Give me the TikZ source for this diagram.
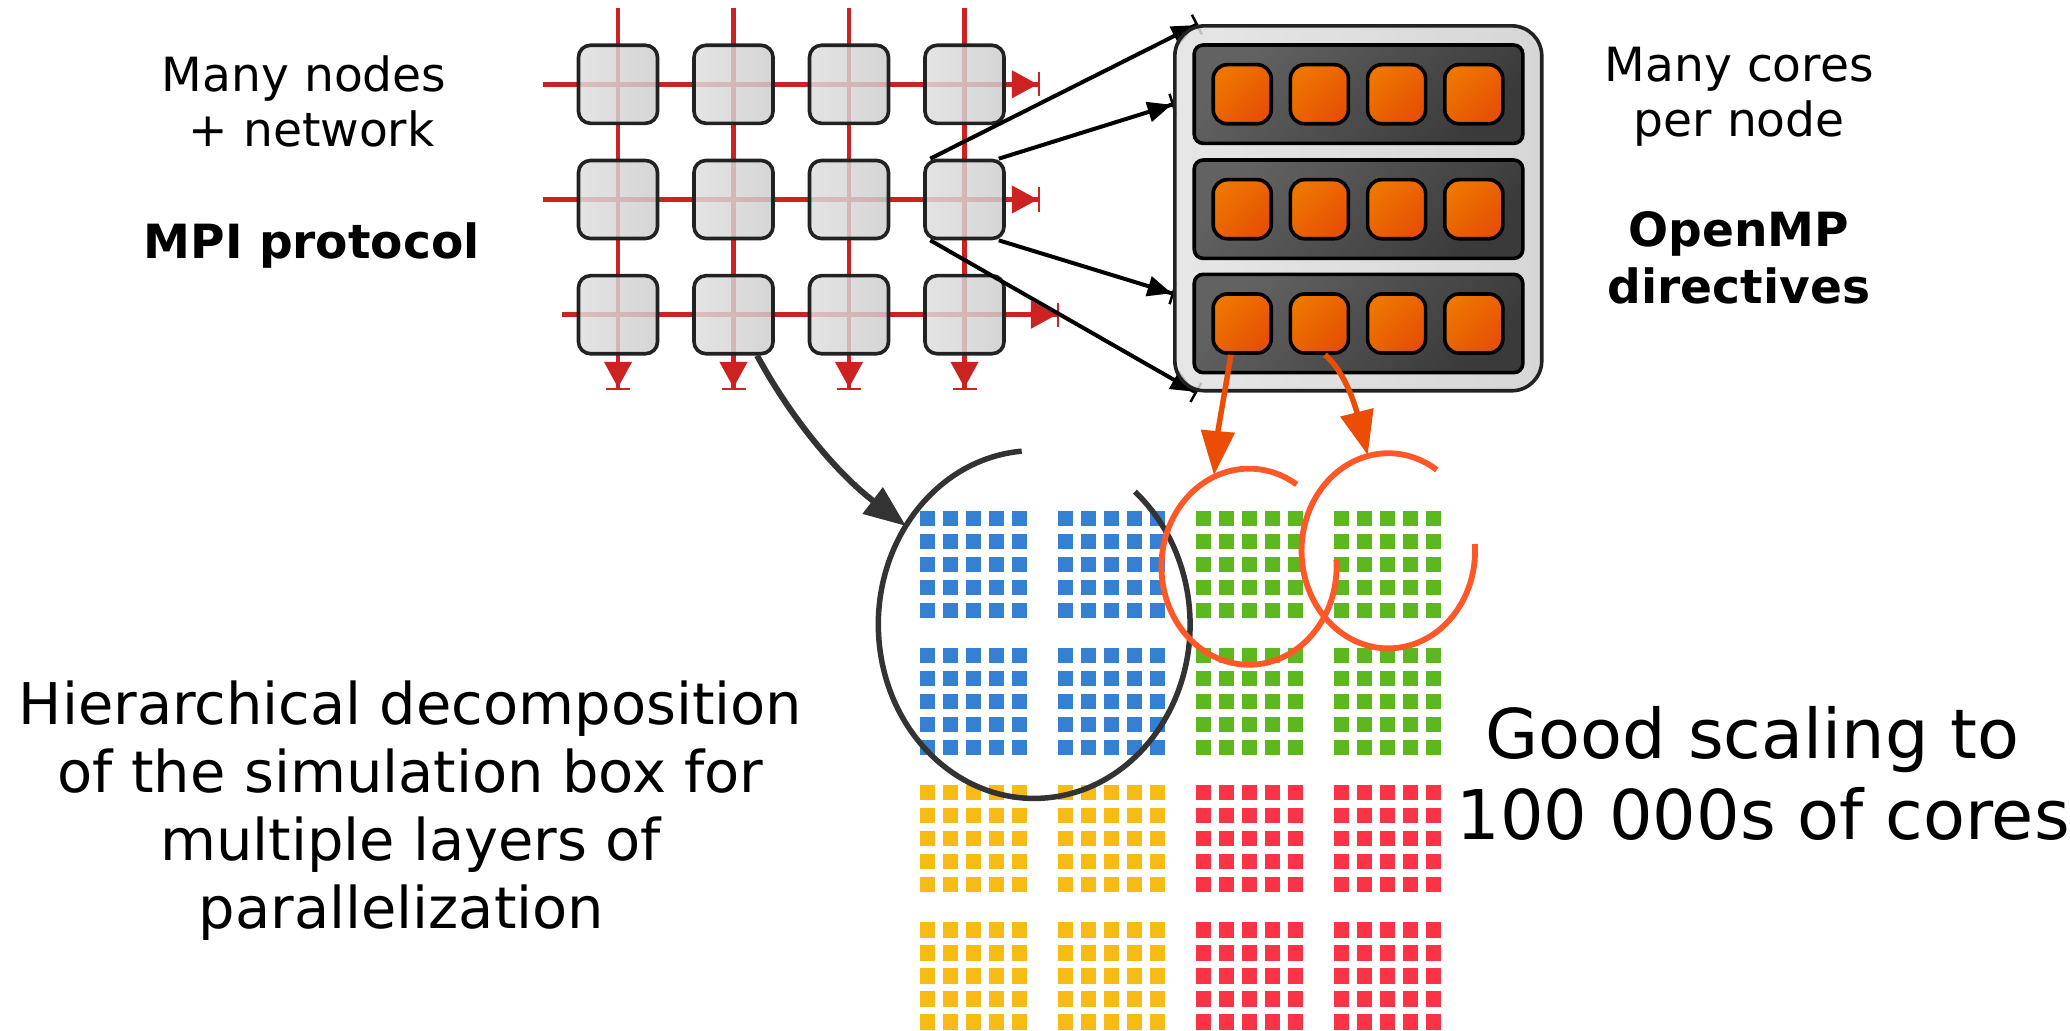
\documentclass[tikz,border=0pt]{standalone}
\usepackage{fontspec}
\setmainfont{DejaVu Sans}
\usetikzlibrary{arrows.meta}
\definecolor{netred}{RGB}{204,34,34}
\definecolor{frame}{RGB}{34,34,34}
\definecolor{arcgray}{RGB}{51,51,51}
\definecolor{cpuA}{RGB}{222,222,222}
\definecolor{cpuB}{RGB}{205,205,205}
\definecolor{rackA}{RGB}{226,226,226}
\definecolor{rackB}{RGB}{207,207,207}
\definecolor{boardA}{RGB}{98,98,98}
\definecolor{boardB}{RGB}{58,58,58}
\definecolor{coreA}{RGB}{238,118,0}
\definecolor{coreB}{RGB}{230,80,5}
\definecolor{spawn}{RGB}{235,77,5}
\definecolor{ringor}{RGB}{255,88,40}
\definecolor{cblue}{RGB}{53,128,210}
\definecolor{cgreen}{RGB}{93,184,31}
\definecolor{cyellow}{RGB}{246,188,21}
\definecolor{cred}{RGB}{250,52,70}
\tikzstyle{cpu}=[rectangle, rounded corners=0.12cm, draw=frame, line width=0.036cm,
  minimum width=0.79cm, minimum height=0.78cm, inner sep=0pt,
  left color=cpuA, right color=cpuB, fill opacity=0.83]
\tikzstyle{rack}=[rectangle, rounded corners=0.3cm, draw=frame, line width=0.036cm,
  minimum width=3.667cm, minimum height=3.647cm, inner sep=0pt,
  left color=rackA, right color=rackB, fill opacity=0.85]
\tikzstyle{board}=[rectangle, rounded corners=0.09cm, draw=black, line width=0.036cm,
  minimum width=3.284cm, minimum height=0.983cm, inner sep=0pt,
  top color=boardA, bottom color=boardB, shading angle=45]
\tikzstyle{core}=[rectangle, rounded corners=0.14cm, draw=black, line width=0.036cm,
  minimum width=0.58cm, minimum height=0.59cm, inner sep=0pt,
  top color=coreA, bottom color=coreB, shading angle=45]
\tikzstyle{net}=[draw=netred, line width=0.045cm,
  -{Triangle[length=0.26cm,width=0.27cm]Bar[width=0.24cm,line width=0.022cm]}]
\tikzstyle{link}=[draw=black, line width=0.04cm,
  -{Triangle[length=0.24cm,width=0.2cm]Bar[width=0.22cm,line width=0.025cm]}]
\tikzstyle{hop}=[draw=arcgray, line width=0.06cm, -{Triangle[length=0.42cm,width=0.32cm]}]
\tikzstyle{thread}=[draw=spawn, line width=0.055cm, -{Triangle[length=0.44cm,width=0.33cm]}]
\tikzstyle{zoomring}=[draw=arcgray, line width=0.055cm]
\tikzstyle{threadring}=[draw=ringor, line width=0.058cm]
\tikzstyle{txt}=[inner sep=0pt, anchor=base, align=center, font=\fontsize{13.4}{15.65}\selectfont]
\tikzstyle{boldtxt}=[txt, font=\fontsize{13.4}{16.1}\selectfont\bfseries]
\tikzstyle{midtxt}=[txt, font=\fontsize{16.35}{19.3}\selectfont]
\tikzstyle{bigtxt}=[txt, font=\fontsize{19.5}{23.05}\selectfont]
\newcommand{\cpu}{\node[cpu]}
\newcommand{\core}{\node[core]}
\newcommand{\cellblock}[3]{%
  \foreach \i in {0,...,4} \foreach \j in {0,...,4}
    \fill[#3] ({#1+23*\i},{#2+23*\j}) rectangle +(15.3,15.3);}

\begin{document}
\begin{tikzpicture}[x=0.01cm, y=-0.01cm]
\useasboundingbox (0,0) rectangle (2070,1030);

\foreach \bx/\by/\col in {0/0/cblue, 1/0/cblue, 0/1/cblue, 1/1/cblue,
  2/0/cgreen, 3/0/cgreen, 2/1/cgreen, 3/1/cgreen,
  0/2/cyellow, 1/2/cyellow, 0/3/cyellow, 1/3/cyellow,
  2/2/cred, 3/2/cred, 2/3/cred, 3/3/cred}
  \cellblock{920+138*\bx}{510.7+137.2*\by}{\col};

\coordinate (zc) at (1034.2,624.5);
\coordinate (o1) at (1249,566.7);
\coordinate (o2) at (1388.3,550.8);
\draw[zoomring] (zc) ++(94.6:1.558cm and 1.738cm)
  arc[start angle=94.6, end angle=409.8, x radius=1.558cm, y radius=1.738cm];
\draw[threadring] (o1) ++(57:0.875cm and 0.98cm)
  arc[start angle=57, end angle=364, x radius=0.875cm, y radius=0.98cm];
\draw[threadring] (o2) ++(56:0.867cm and 0.975cm)
  arc[start angle=56, end angle=364, x radius=0.867cm, y radius=0.975cm];

\foreach \c in {1,...,4} {
  \coordinate (vt\c) at ({618+115.5*(\c-1)},8);
  \coordinate (vb\c) at ({618+115.5*(\c-1)},390);
  \draw[net] (vt\c) -- (vb\c);
}
\foreach \r/\xs/\xe in {1/542.6/1040, 2/542.6/1040, 3/562.4/1059} {
  \coordinate (hl\r) at (\xs,{84.3+115.2*(\r-1)});
  \coordinate (hr\r) at (\xe,{84.3+115.2*(\r-1)});
  \draw[net] (hl\r) -- (hr\r);
}
\foreach \r in {1,2,3} \foreach \c in {1,...,4}
  \cpu (n\r\c) at ({618+115.5*(\c-1)},{84.3+115.2*(\r-1)}) {};

\coordinate (tA) at (1198,24);
\coordinate (tB) at (1174,104);
\coordinate (tC) at (1174,294);
\coordinate (tD) at (1197,393);
\path (n24.130) edge[link] (tA)
  (n24.50) edge[link] (tB)
  (n24.-50) edge[link] (tC)
  (n24.-130) edge[link] (tD);

\node[rack] (rack) at (1358.3,208.3) {};
\foreach \r/\y in {1/94.2, 2/209.2, 3/323.5} {
  \node[board] (b\r) at (1358.5,\y) {};
  \foreach \c in {1,...,4}
    \core (c\r\c) at ({1242.2+77.2*(\c-1)},\y) {};
}

\coordinate (tz) at (906,526);
\coordinate (t1) at (1214,475);
\coordinate (t2) at (1367.7,455);
\draw[hop] (n32.-60) .. controls (792,420) and (838,474) .. (tz);
\draw[thread] (c31.-110) .. controls (1226,385) and (1218,430) .. (t1);
\draw[thread] (c32.-80) .. controls (1345,372) and (1355,405) .. (t2);

\node[txt] (many) at (304.2,146.7) {Many nodes\\\mbox{}\ + network};
\node[boldtxt] (mpi) at (311.7,258.3) {MPI protocol};
\node[txt] (percore) at (1739.2,136.7) {Many cores\\per node};
\node[boldtxt] (omp) at (1739,303.3) {OpenMP\\directives};
\node[midtxt] (decomp) at (410.6,928.3) {Hierarchical decomposition\\of the simulation box for\\multiple layers of\\parallelization\ \mbox{}};
\node[bigtxt] (scaling) at (1763.3,839.3) {Good scaling to\ \mbox{}\\100 000s of cores};
\end{tikzpicture}
\end{document}
